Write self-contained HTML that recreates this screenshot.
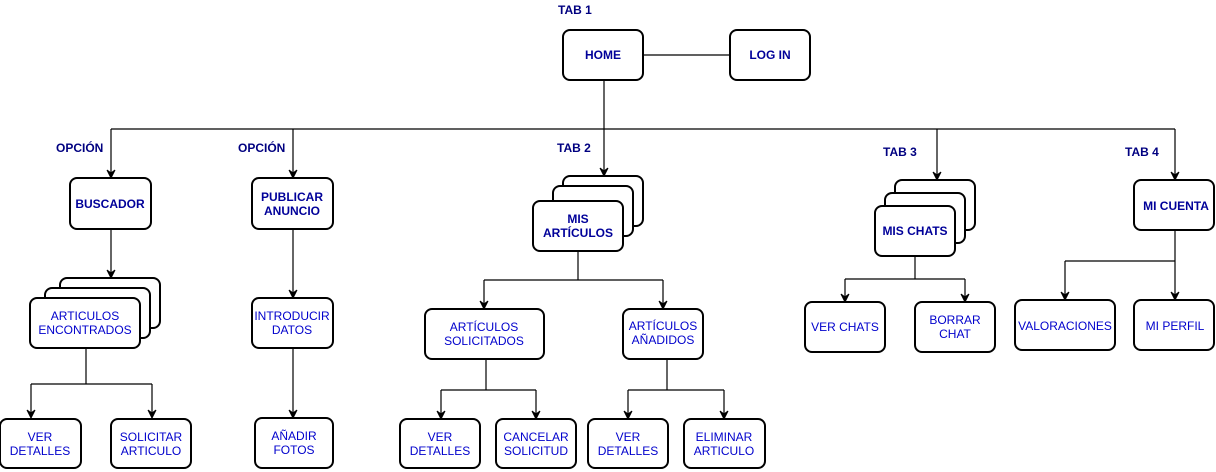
<!DOCTYPE html>
<html><head><meta charset="utf-8"><style>
html,body{margin:0;padding:0;background:#fff;width:1216px;height:472px;overflow:hidden}
svg text{font-family:"Liberation Sans",Arial,sans-serif;font-size:12px;text-anchor:middle}
.b{font-weight:bold;fill:#000099}
.n{fill:#0000cc}
.l{font-weight:bold;fill:#000080;text-anchor:start}
rect{fill:#fff;stroke:#000;stroke-width:2}
path{fill:none;stroke:#000;stroke-width:1.2}
</style></head><body>
<svg width="1216" height="472" xmlns="http://www.w3.org/2000/svg">
<defs><marker id="a" markerWidth="10" markerHeight="10" refX="5" refY="9" orient="0" markerUnits="userSpaceOnUse"><path d="M1,1 L5,9 L9,1 L5,4 Z" style="fill:#000;stroke:#000;stroke-width:1"/></marker></defs>
<!-- connectors -->
<path d="M643,55 H730"/>
<path d="M604,80 V129"/>
<path d="M111,129 H1175"/>
<path d="M111,129 V178" marker-end="url(#a)"/>
<path d="M293,129 V178" marker-end="url(#a)"/>
<path d="M604,129 V176" marker-end="url(#a)"/>
<path d="M937,129 V180" marker-end="url(#a)"/>
<path d="M1175,129 V180" marker-end="url(#a)"/>
<path d="M111,229 V278" marker-end="url(#a)"/>
<path d="M293,229 V298" marker-end="url(#a)"/>
<path d="M293,348 V418" marker-end="url(#a)"/>
<path d="M86,348 V384 M31,384 H152"/>
<path d="M31,384 V418" marker-end="url(#a)"/>
<path d="M152,384 V418" marker-end="url(#a)"/>
<path d="M578,251 V280 M484,280 H663"/>
<path d="M484,280 V309" marker-end="url(#a)"/>
<path d="M663,280 V309" marker-end="url(#a)"/>
<path d="M486,359 V390 M441,390 H536"/>
<path d="M441,390 V419" marker-end="url(#a)"/>
<path d="M536,390 V419" marker-end="url(#a)"/>
<path d="M667,359 V390 M628,390 H724"/>
<path d="M628,390 V419" marker-end="url(#a)"/>
<path d="M724,390 V419" marker-end="url(#a)"/>
<path d="M915,256 V279 M845,279 H965"/>
<path d="M845,279 V302" marker-end="url(#a)"/>
<path d="M965,279 V302" marker-end="url(#a)"/>
<path d="M1175,230 V261 M1065,261 H1175"/>
<path d="M1065,261 V300" marker-end="url(#a)"/>
<path d="M1175,261 V300" marker-end="url(#a)"/>
<!-- labels -->
<text class="l" x="558" y="14">TAB 1</text>
<text class="l" x="56" y="152">OPCIÓN</text>
<text class="l" x="238" y="152">OPCIÓN</text>
<text class="l" x="557" y="152">TAB 2</text>
<text class="l" x="883" y="156">TAB 3</text>
<text class="l" x="1125" y="156">TAB 4</text>
<!-- boxes -->
<rect x="563" y="30" width="80" height="50" rx="7"/><text class="b" x="603" y="59">HOME</text>
<rect x="730" y="30" width="80" height="50" rx="7"/><text class="b" x="770" y="59">LOG IN</text>
<rect x="70" y="178" width="81" height="51" rx="7"/><text class="b" x="110" y="208">BUSCADOR</text>
<rect x="252" y="178" width="81" height="51" rx="7"/><text class="b" x="292" y="201">PUBLICAR</text><text class="b" x="292" y="215">ANUNCIO</text>
<rect x="60" y="278" width="100" height="50" rx="7"/>
<rect x="45" y="288" width="105" height="50" rx="7"/>
<rect x="30" y="298" width="110" height="50" rx="7"/><text class="n" x="85" y="320">ARTICULOS</text><text class="n" x="85" y="334">ENCONTRADOS</text>
<rect x="252" y="298" width="81" height="50" rx="7"/><text class="n" x="292" y="320">INTRODUCIR</text><text class="n" x="292" y="334">DATOS</text>
<rect x="0" y="419" width="81" height="49" rx="7"/><text class="n" x="40" y="441">VER</text><text class="n" x="40" y="455">DETALLES</text>
<rect x="111" y="419" width="80" height="49" rx="7"/><text class="n" x="151" y="441">SOLICITAR</text><text class="n" x="151" y="455">ARTICULO</text>
<rect x="255" y="418" width="78" height="50" rx="7"/><text class="n" x="294" y="440">AÑADIR</text><text class="n" x="294" y="454">FOTOS</text>
<rect x="563" y="176" width="80" height="50" rx="7"/>
<rect x="553" y="186" width="80" height="50" rx="7"/>
<rect x="533" y="201" width="90" height="50" rx="7"/><text class="b" x="578" y="223">MIS</text><text class="b" x="578" y="237">ARTÍCULOS</text>
<rect x="425" y="309" width="119" height="50" rx="7"/><text class="n" x="484" y="331">ARTÍCULOS</text><text class="n" x="484" y="345">SOLICITADOS</text>
<rect x="623" y="309" width="80" height="50" rx="7"/><text class="n" x="663" y="330">ARTÍCULOS</text><text class="n" x="663" y="344">AÑADIDOS</text>
<rect x="400" y="419" width="80" height="49" rx="7"/><text class="n" x="440" y="441">VER</text><text class="n" x="440" y="455">DETALLES</text>
<rect x="496" y="419" width="80" height="49" rx="7"/><text class="n" x="536" y="441">CANCELAR</text><text class="n" x="536" y="455">SOLICITUD</text>
<rect x="588" y="419" width="80" height="49" rx="7"/><text class="n" x="628" y="441">VER</text><text class="n" x="628" y="455">DETALLES</text>
<rect x="684" y="419" width="81" height="49" rx="7"/><text class="n" x="724" y="441">ELIMINAR</text><text class="n" x="724" y="455">ARTICULO</text>
<rect x="895" y="180" width="80" height="50" rx="7"/>
<rect x="885" y="193" width="80" height="50" rx="7"/>
<rect x="875" y="206" width="80" height="50" rx="7"/><text class="b" x="915" y="235">MIS CHATS</text>
<rect x="1134" y="180" width="80" height="50" rx="7"/><text class="b" x="1176" y="210">MI CUENTA</text>
<rect x="805" y="302" width="80" height="50" rx="7"/><text class="n" x="845" y="331">VER CHATS</text>
<rect x="915" y="302" width="80" height="50" rx="7"/><text class="n" x="955" y="324">BORRAR</text><text class="n" x="955" y="338">CHAT</text>
<rect x="1015" y="300" width="100" height="50" rx="7"/><text class="n" x="1065" y="330">VALORACIONES</text>
<rect x="1134" y="300" width="80" height="50" rx="7"/><text class="n" x="1175" y="330">MI PERFIL</text>
</svg>
</body></html>
